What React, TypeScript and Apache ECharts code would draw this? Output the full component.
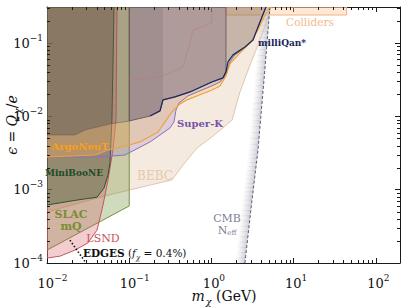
import React, { useEffect, useRef } from 'react';
import * as echarts from 'echarts';

const SERIF = 'DejaVu Serif';
const AXIS = '#1a1a1a';

// axis ranges: m_chi (GeV), epsilon
const X_RANGE = [0.01, 196];
const Y_RANGE = [1e-4, 0.31];
const MINOR_STEPS = [2, 3, 4, 5, 6, 7, 8, 9];
const X_DECADES = [-2, -1, 0, 1, 2];
const Y_DECADES = [-4, -3, -2, -1];

// regions / boundaries: [m (GeV), epsilon]
const BEBC = [
  [0.01, 4.97e-4], [0.0441, 7.9e-4], [0.1, 9.9e-4], [0.331, 1.36e-3], [0.451, 2.17e-3],
  [0.667, 3.71e-3], [1.01, 5.24e-3], [1.38, 6.95e-3], [1.78, 8.93e-3], [2.22, 0.0215],
  [2.94, 0.0502], [3.68, 0.0942], [4.47, 0.166], [5.14, 0.283], [5.29, 0.31], [0.01, 0.31],
];
const COLLIDERS = [[1.5, 0.241], [44, 0.241], [44, 0.31], [1.5, 0.31]];
const SLAC_MQ = [[0.01, 1.5e-4], [0.1, 6.0e-4], [0.1, 0.31], [0.01, 0.31]];
const MINIBOONE = [
  [0.01, 6.18e-4], [0.0232, 7.22e-4], [0.0406, 7.9e-4], [0.0493, 1.05e-3], [0.0552, 1.59e-3],
  [0.0583, 2.31e-3], [0.0616, 8.93e-3], [0.0653, 0.31], [0.01, 0.31],
];
const LSND = [
  [0.01, 1.17e-4], [0.0144, 1.24e-4], [0.0219, 1.5e-4], [0.0315, 1.88e-4], [0.0406, 2.82e-4],
  [0.048, 6.18e-4], [0.0552, 1.36e-3], [0.0634, 3.48e-3], [0.069, 8.93e-3], [0.071, 0.31], [0.01, 0.31],
];
const SUPER_K_EDGE = [
  [0.01, 2.79e-3], [0.0441, 2.79e-3], [0.0887, 2.97e-3], [0.179, 4.48e-3], [0.257, 5.94e-3],
  [0.313, 6.95e-3], [0.35, 8.39e-3], [0.37, 0.0122], [0.403, 0.0152], [0.518, 0.019],
  [1.01, 0.026], [1.27, 0.0294], [1.5, 0.0378], [1.68, 0.0552], [1.93, 0.0689], [2.55, 0.0857],
  [3.2, 0.11], [3.68, 0.161], [4.11, 0.227], [4.6, 0.31],
];
const ARGONEUT_EDGE = [
  [0.01, 2.79e-3], [0.0384, 2.97e-3], [0.0552, 3.48e-3], [0.1, 4.07e-3], [0.135, 4.48e-3],
  [0.224, 6.12e-3], [0.272, 8.39e-3], [0.331, 0.0115], [0.414, 0.0148], [0.504, 0.0168],
  [1.01, 0.0229], [1.27, 0.026], [1.5, 0.0356], [1.68, 0.0519], [2.22, 0.0733], [2.94, 0.1],
  [3.68, 0.151], [4.47, 0.241], [5.14, 0.31],
];
const UPPER_EDGE = [
  [0.01, 5.57e-3], [0.0219, 5.57e-3], [0.029, 6.52e-3], [0.0583, 7.87e-3], [0.1, 8.65e-3],
  [0.179, 0.0101], [0.237, 0.0119], [0.257, 0.0168], [0.36, 0.0184], [0.548, 0.0215],
  [1.01, 0.0294], [1.38, 0.0334], [1.5, 0.0404], [1.5, 0.31],
];
const MILLIQAN_EDGE = [
  [0.01, 5.57e-3], [0.0219, 5.57e-3], [0.029, 6.52e-3], [0.0583, 7.87e-3], [0.1, 8.65e-3],
  [0.179, 0.0101], [0.237, 0.0119], [0.257, 0.0168], [0.36, 0.0184], [0.548, 0.0215],
  [1.01, 0.0294], [1.38, 0.0334], [1.5, 0.0404], [1.59, 0.0552], [1.83, 0.0689], [2.55, 0.0885],
  [3.2, 0.11], [3.68, 0.166], [4.11, 0.227], [4.6, 0.31],
];
const INNER_EDGE = [[0.1, 0.0314], [0.237, 0.0345], [0.451, 0.0472], [0.548, 0.1], [0.596, 0.151], [1.01, 0.188], [1.01, 0.31]];
const CMB_NEFF = [[2.55, 1e-4], [3.11, 7.22e-4], [3.68, 3.48e-3], [4.35, 0.0314], [5.14, 0.31]];
const EDGES_LINE = [[0.019, 2.05e-4], [0.0298, 1e-4]];

const lg = (p: number[]) => [Math.log10(p[0]), Math.log10(p[1])];
const LX = X_RANGE.map(Math.log10);
const LY = Y_RANGE.map(Math.log10);
const TOP_LEFT = [X_RANGE[0], Y_RANGE[1]];
const rev = (a: number[][]) => a.slice().reverse();

function polySeries(pts: number[][], fill: string, stroke: string | null, lw = 1) {
  const data = pts.map(lg);
  return {
    type: 'custom',
    coordinateSystem: 'cartesian2d',
    clip: true,
    silent: true,
    data,
    renderItem: (params: any, api: any) => {
      if (params.dataIndex !== 0) return null;
      return {
        type: 'polygon',
        shape: { points: data.map((d) => api.coord(d)) },
        style: { fill, stroke: stroke, lineWidth: stroke ? lw : 0 },
      };
    },
  };
}

function lineSeries(pts: number[][], color: string, width: number, type: any = 'solid') {
  return {
    type: 'line',
    data: pts.map(lg),
    symbol: 'none',
    clip: true,
    silent: true,
    lineStyle: { color, width, type },
  };
}

function cmbShade() {
  const data = CMB_NEFF.map(lg);
  return {
    type: 'custom',
    coordinateSystem: 'cartesian2d',
    clip: true,
    silent: true,
    data,
    renderItem: (params: any, api: any) => {
      if (params.dataIndex !== 0) return null;
      const pts = data.map((d) => api.coord(d));
      const W = 10;
      const children: any[] = [];
      for (let i = 0; i < pts.length - 1; i++) {
        const a = pts[i], b = pts[i + 1];
        const N = 12;
        for (let j = 0; j < N; j++) {
          const t0 = j / N, t1 = (j + 1) / N;
          const p0 = [a[0] + (b[0] - a[0]) * t0, a[1] + (b[1] - a[1]) * t0 + 0.5];
          const p1 = [a[0] + (b[0] - a[0]) * t1, a[1] + (b[1] - a[1]) * t1 - 0.5];
          const mx = (p0[0] + p1[0]) / 2;
          children.push({
            type: 'polygon',
            shape: { points: [p0, p1, [p1[0] - W, p1[1]], [p0[0] - W, p0[1]]] },
            style: {
              fill: new echarts.graphic.LinearGradient(mx - W, 0, mx, 0, [
                { offset: 0, color: 'rgba(210,210,216,0)' },
                { offset: 1, color: 'rgba(182,183,194,0.65)' },
              ], true),
            },
          });
        }
      }
      return { type: 'group', children };
    },
  };
}

function minorTicks() {
  const xs = X_DECADES.flatMap((e) => MINOR_STEPS.map((k) => Math.log10(k) + e)).filter((v) => v < LX[1]);
  const ys = Y_DECADES.flatMap((e) => MINOR_STEPS.map((k) => Math.log10(k) + e)).filter((v) => v < LY[1]);
  const data = [...xs.map((v) => [v, LY[0], 0]), ...ys.map((v) => [LX[0], v, 1])];
  const L = 3;
  return {
    type: 'custom',
    coordinateSystem: 'cartesian2d',
    silent: true,
    data,
    renderItem: (params: any, api: any) => {
      const cs = params.coordSys;
      const kind = api.value(2);
      const p = api.coord([api.value(0), api.value(1)]);
      const st = { stroke: AXIS, lineWidth: 1 };
      if (kind === 0) {
        const x = Math.round(p[0]) + 0.5;
        const b = cs.y + cs.height, t = cs.y;
        return { type: 'group', children: [
          { type: 'line', shape: { x1: x, y1: b, x2: x, y2: b - L }, style: st },
          { type: 'line', shape: { x1: x, y1: t, x2: x, y2: t + L }, style: st },
        ] };
      }
      const y = Math.round(p[1]) + 0.5;
      const l = cs.x, r = cs.x + cs.width;
      return { type: 'group', children: [
        { type: 'line', shape: { x1: l, y1: y, x2: l + L, y2: y }, style: st },
        { type: 'line', shape: { x1: r, y1: y, x2: r - L, y2: y }, style: st },
      ] };
    },
  };
}

const supStr = (v: number) => (v < 0 ? '\u2212' + -v : '' + v);
const tickRich = {
  a: { fontFamily: SERIF, fontSize: 13, lineHeight: 20, color: '#111' },
  a1: { fontFamily: SERIF, fontSize: 13, lineHeight: 20, color: '#111', padding: [0, 0, 0, 5] },
  a2: { fontFamily: SERIF, fontSize: 13, lineHeight: 20, color: '#111', padding: [0, 0, 0, 11] },
  b: { fontFamily: SERIF, fontSize: 9, lineHeight: 8, verticalAlign: 'top', color: '#111' },
};
const isInt = (v: number) => Math.abs(v - Math.round(v)) < 1e-6;
const xFmt = (v: number) => {
  if (!isInt(v)) return '';
  const s = supStr(Math.round(v));
  return `{a${s.length > 1 ? 2 : 1}|10}{b|${s}}`;
};
const yFmt = (v: number) => (isInt(v) ? `{a|10}{b|${supStr(Math.round(v))}}` : '');

const rs = (size: number, color: string, extra: any = {}) => ({ fontFamily: SERIF, fontSize: size, fill: color, lineHeight: size + 4, ...extra });

function label(x: number, y: number, text: string, color: string, size: number, weight = 'normal', extra: any = {}) {
  return {
    type: 'text', x, y, z: 50, silent: true,
    style: { text, fill: color, fontFamily: SERIF, fontSize: size, fontWeight: weight, align: 'center', verticalAlign: 'middle', ...extra },
  };
}

const mathRich = (size: number) => ({
  i: rs(size, '#111', { fontStyle: 'italic', lineHeight: 20 }),
  n: rs(size, '#111', { lineHeight: 20 }),
  s: rs(size * 0.68, '#111', { fontStyle: 'italic', lineHeight: 9, verticalAlign: 'bottom', padding: [0, 0, 0, 1] }),
});

function buildOption() {
  const axisBase = {
    type: 'value',
    interval: 1,
    splitLine: { show: false },
    axisLine: { show: true, onZero: false, lineStyle: { color: AXIS, width: 1 } },
    axisTick: { show: true, inside: true, length: 5, lineStyle: { color: AXIS, width: 1 } },
  };
  const superKBand = [...SUPER_K_EDGE, ...rev(MILLIQAN_EDGE)];
  const argoLeft = [...ARGONEUT_EDGE.slice(0, 4), ...rev(UPPER_EDGE.slice(0, 5))];
  const argoRight = [...ARGONEUT_EDGE.slice(3), ...rev(MILLIQAN_EDGE.slice(4))];
  const aboveMq = [...MILLIQAN_EDGE, TOP_LEFT];
  const upperPoly = [...UPPER_EDGE.slice(4), [UPPER_EDGE[4][0], Y_RANGE[1]]];
  const midPoly = [...UPPER_EDGE.slice(4, 8), [UPPER_EDGE[7][0], Y_RANGE[1]], [UPPER_EDGE[4][0], Y_RANGE[1]]];
  return {
    animation: false,
    backgroundColor: '#ffffff',
    textStyle: { fontFamily: SERIF },
    grid: { left: 47, right: 9, top: 7, bottom: 44, containLabel: false },
    xAxis: [
      { ...axisBase, min: LX[0], max: LX[1], position: 'bottom',
        axisLabel: { margin: 10, showMaxLabel: false, formatter: xFmt, rich: tickRich, fontFamily: SERIF } },
      { ...axisBase, min: LX[0], max: LX[1], position: 'top', axisLabel: { show: false } },
    ],
    yAxis: [
      { ...axisBase, min: LY[0], max: LY[1], position: 'left',
        axisLabel: { margin: 4, showMaxLabel: false, formatter: yFmt, rich: tickRich, fontFamily: SERIF } },
      { ...axisBase, min: LY[0], max: LY[1], position: 'right', axisLabel: { show: false } },
    ],
    series: [
      polySeries(BEBC, 'rgba(228,200,172,0.38)', '#e2c6aa'),
      polySeries(COLLIDERS, 'rgba(250,190,140,0.35)', '#f3b27e'),
      polySeries(SLAC_MQ, 'rgba(110,140,50,0.32)', '#7a9040'),
      polySeries(LSND, 'rgba(210,80,90,0.28)', '#c85560'),
      polySeries(MINIBOONE, 'rgba(35,75,45,0.32)', '#2a5238'),
      polySeries(superKBand, 'rgba(150,120,200,0.25)', null),
      polySeries(argoLeft, 'rgba(240,175,60,0.36)', null),
      polySeries(argoRight, 'rgba(245,175,50,0.2)', null),
      polySeries(aboveMq, 'rgba(120,95,80,0.38)', null),
      polySeries(upperPoly, 'rgba(110,80,115,0.26)', 'rgba(95,80,90,0.8)'),
      polySeries(midPoly, 'rgba(90,80,80,0.15)', null),
      lineSeries(UPPER_EDGE.slice(0, 5), 'rgba(110,95,90,0.7)', 0.8),
      lineSeries(INNER_EDGE, 'rgba(190,120,110,0.55)', 0.8),
      cmbShade(),
      lineSeries(CMB_NEFF, '#5a5f78', 1, [3, 2]),
      lineSeries(SUPER_K_EDGE, '#8a70b8', 1),
      lineSeries(ARGONEUT_EDGE, '#eea33a', 1.2),
      lineSeries(MILLIQAN_EDGE.slice(5), '#1c2b62', 1.3),
      lineSeries(EDGES_LINE, '#111', 1.6, [1.5, 2]),
      minorTicks(),
    ],
    graphic: [
      label(80, 146, 'ArgoNeuT', '#f7a01a', 10, 'bold'),
      label(74, 173, 'MiniBooNE', '#1d4a2a', 9, 'bold'),
      label(71, 220, 'SLAC\nmQ', '#7b8d33', 11, 'bold', { lineHeight: 12 }),
      label(103, 238, 'LSND', '#c9555d', 11),
      label(155, 176, 'BEBC', '#e6c9ab', 12),
      label(200, 123, 'Super-K', '#7553a8', 10, 'bold'),
      label(282, 43, 'milliQan*', '#18265a', 9, 'bold'),
      label(310, 22, 'Colliders', '#f4b98c', 10.5),
      label(227, 224, 'CMB\n{n|N}{s|eff}', '#7d8199', 11, 'normal', {
        lineHeight: 12,
        rich: { n: rs(11, '#7d8199', { lineHeight: 12 }), s: rs(7, '#7d8199', { lineHeight: 5, verticalAlign: 'bottom' }) },
      }),
      label(83, 253, '{b|EDGES} {n|(}{i|f}{s|\u03c7}{n| = 0.4%)}', '#111', 10.5, 'normal', {
        align: 'left',
        rich: {
          b: rs(10.5, '#111', { fontWeight: 'bold', lineHeight: 16 }),
          n: rs(10.5, '#111', { lineHeight: 16 }),
          i: rs(10.5, '#111', { fontStyle: 'italic', lineHeight: 16 }),
          s: rs(7, '#111', { fontStyle: 'italic', lineHeight: 7, verticalAlign: 'bottom' }),
        },
      }),
      label(224, 296, '{i|m}{s|\u03c7}{n| (GeV)}', '#111', 14, 'normal', { rich: mathRich(14) }),
      {
        ...label(12, 125, '{i|\u03f5}{n| = }{i|Q}{s|\u03c7}{n|/}{i|e}', '#111', 14, 'normal', { rich: mathRich(14) }),
        rotation: Math.PI / 2,
      },
    ],
  };
}

export default function App() {
  const ref = useRef<HTMLDivElement>(null);
  useEffect(() => {
    if (!ref.current) return;
    const chart = echarts.init(ref.current, undefined, { renderer: 'svg' });
    chart.setOption(buildOption() as any);
    return () => chart.dispose();
  }, []);
  return (
    <div
      ref={ref}
      style={{ position: 'fixed', left: 0, top: 0, width: 409, height: 307, background: '#fff' }}
    />
  );
}
